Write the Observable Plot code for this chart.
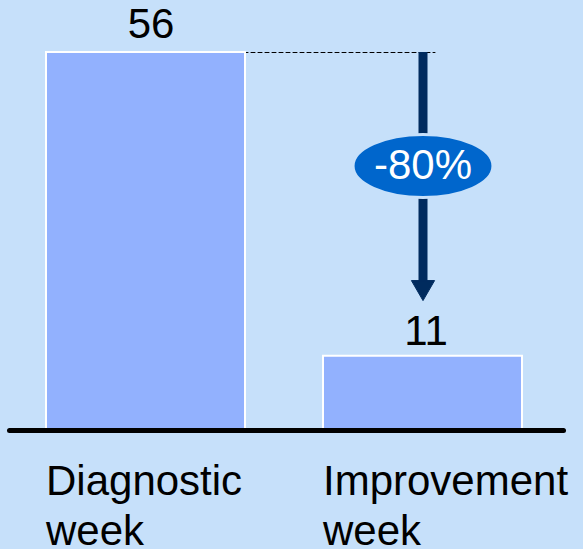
<!DOCTYPE html>
<html>
<head>
<meta charset="utf-8">
<script src="https://cdn.jsdelivr.net/npm/d3@7"></script>
<script src="https://cdn.jsdelivr.net/npm/@observablehq/plot@0.6"></script>
<style>
  html, body { margin: 0; padding: 0; background: #c6e0fa; overflow: hidden; }
  svg { display: block; }
</style>
</head>
<body>
<div id="chart"></div>
<script>
// Weekly counts before and after the improvement work
const categories = ["Diagnostic week", "Improvement week"];
const labels = ["Diagnostic\nweek", "Improvement\nweek"];
const values = [56, 11];

const data = categories.map((c, i) => ({cat: c, label: labels[i], value: values[i]}));
const before = data[0], after = data[1];
const change = Math.round((after.value - before.value) / before.value * 100);
const changeLabel = `${change}%`;

const bg = "#c6e0fa";
const navy = "#002b5e";
const font = "Liberation Sans, Arial, Helvetica, sans-serif";

// Ellipse symbol for the change badge (wider than tall)
const ellipse = {
  draw(context, size) {
    const ry = Math.sqrt(size / Math.PI);
    const rx = ry * 2.22;
    const k = 0.5522847498;
    context.moveTo(rx, 0);
    context.bezierCurveTo(rx, ry * k, rx * k, ry, 0, ry);
    context.bezierCurveTo(-rx * k, ry, -rx, ry * k, -rx, 0);
    context.bezierCurveTo(-rx, -ry * k, -rx * k, -ry, 0, -ry);
    context.bezierCurveTo(rx * k, -ry, rx, -ry * k, rx, 0);
    context.closePath();
  }
};

const chart = Plot.plot({
  width: 583,
  height: 549,
  margin: 0,
  style: {background: bg, fontFamily: font},
  x: {type: "band", domain: categories, range: [46, 523], paddingInner: 0.28, paddingOuter: 0, axis: null},
  y: {domain: [0, 56], range: [430, 52], axis: null},
  marks: [
    // dashed guide from the first bar's top across to the arrow
    Plot.arrow([before], {
      x1: "cat", y1: "value", x2: () => after.cat, y2: "value",
      stroke: "black", strokeWidth: 1, strokeDasharray: "4,3",
      headLength: 0, insetStart: 0, insetEnd: -12
    }),
    Plot.barY(data, {x: "cat", y: "value", fill: "#92b1fe", stroke: "white", strokeWidth: 2}),
    Plot.ruleY([0], {stroke: "black", strokeWidth: 5, strokeLinecap: "round", insetLeft: 9.5, insetRight: 19.5}),
    // value labels above the bars
    Plot.text([before], {
      x: "cat", y: "value", text: d => String(d.value),
      fontSize: 42, fill: "black", lineAnchor: "bottom", dx: 5, dy: -15
    }),
    Plot.text([after], {
      x: "cat", y: "value", text: d => String(d.value),
      fontSize: 42, fill: "black", lineAnchor: "bottom", dx: 3, dy: -11
    }),
    // downward arrow showing the drop
    Plot.ruleX([after], {
      x: "cat", y1: () => before.value, y2: "value",
      stroke: navy, strokeWidth: 9, insetBottom: 74
    }),
    Plot.dot([after], {
      x: "cat", y: "value", symbol: "triangle", rotate: 180, r: 8.6,
      fill: navy, stroke: navy, strokeWidth: 1, dy: -69
    }),
    // percentage change badge
    Plot.dot([after], {
      x: "cat", y: () => before.value, symbol: ellipse, r: 31.5,
      fill: "#0066cc", stroke: bg, strokeWidth: 3, dy: 113.5
    }),
    Plot.text([after], {
      x: "cat", y: () => before.value, text: () => changeLabel,
      fontSize: 42, fill: "white", dy: 113.5
    }),
    // category labels under the baseline, left-aligned with each bar
    Plot.text(data, {
      x: "cat", y: () => 0, text: "label",
      fontSize: 42, fill: "black", textAnchor: "start", lineAnchor: "top",
      lineHeight: 1.21, dx: -100, dy: 28
    })
  ]
});

document.getElementById("chart").append(chart);
</script>
</body>
</html>
